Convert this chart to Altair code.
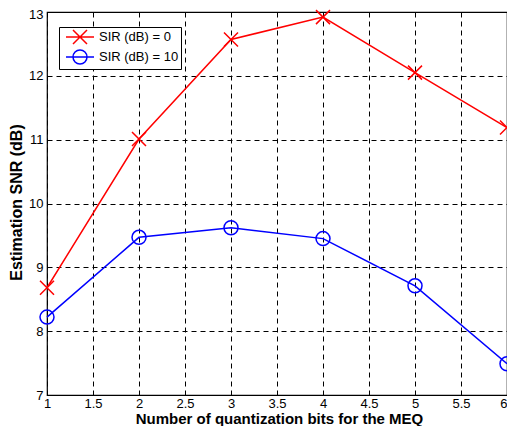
import altair as alt
import pandas as pd

bits = [1, 2, 3, 4, 5, 6]
sir0 = [8.68, 11.01, 12.57, 12.92, 12.05, 11.19]
sir10 = [8.22, 9.47, 9.62, 9.45, 8.71, 7.49]
series_names = ["SIR (dB) = 0", "SIR (dB) = 10"]
colors = ["#FF0000", "#0000FF"]
x_ticks = [1, 1.5, 2, 2.5, 3, 3.5, 4, 4.5, 5, 5.5, 6]
y_ticks = [7, 8, 9, 10, 11, 12, 13]

rows = []
for b, v in zip(bits, sir0):
    rows.append({"bits": b, "snr": v, "series": series_names[0]})
for b, v in zip(bits, sir10):
    rows.append({"bits": b, "snr": v, "series": series_names[1]})
df = pd.DataFrame(rows)

FONT = "Liberation Sans"
X_PATH = "M-1,-1L1,1M-1,1L1,-1"
O_PATH = "M1,0A1,1,0,1,1,-1,0A1,1,0,1,1,1,0Z"
X_LEG = "M-2,0L2,0M-1,-1L1,1M-1,1L1,-1"
O_LEG = "M-2,0L2,0M1,0A1,1,0,1,1,-1,0A1,1,0,1,1,1,0Z"

PLOT_W = 460
PLOT_H = 383

xenc = alt.X("bits:Q", scale=alt.Scale(domain=[1, 6], nice=False),
             axis=alt.Axis(values=x_ticks, title="Number of quantization bits for the MEQ",
                           format="~g", grid=True, gridDash=[5, 4], gridColor="black",
                           gridOpacity=1, ticks=False, labelPadding=2, labelFlush=False,
                           labelAlign={"expr": "datum.value == 6 ? 'right' : 'center'"},
                           domain=False, titleY=28, titleX=232, titleAlign="center",
                           titleBaseline="alphabetic", titleFontSize=15))
yenc = alt.Y("snr:Q", scale=alt.Scale(domain=[7, 13], nice=False, zero=False),
             axis=alt.Axis(values=y_ticks, title="Estimation SNR (dB)",
                           grid=True, gridDash=[5, 4], gridColor="black",
                           gridOpacity=1, ticks=False, labelPadding=4, domain=False,
                           labelOffset={"expr": "datum.value == 13 ? 2 : 0"},
                           titleX=-26, titleY=190, titleAngle=270, titleFontSize=16,
                           titleBaseline="alphabetic", titleAlign="center"))

base = alt.Chart(df)

lines = base.mark_line(strokeWidth=1.5).encode(
    x=xenc, y=yenc,
    color=alt.Color("series:N", scale=alt.Scale(domain=series_names, range=colors), legend=None),
    detail="series:N",
)

points = base.mark_point(filled=False, strokeWidth=1.5, size=196, opacity=1).encode(
    x=xenc, y=yenc,
    color=alt.Color("series:N", scale=alt.Scale(domain=series_names, range=colors), legend=None),
    shape=alt.Shape("series:N", scale=alt.Scale(domain=series_names, range=[X_PATH, O_PATH]), legend=None),
)

leg = alt.Legend(orient="none", legendX=12, legendY=15, title=None,
                 strokeColor="black", fillColor="white", padding=2,
                 labelFont=FONT, labelFontSize=13, labelColor="black",
                 labelExpr="datum.label + '    '",
                 symbolSize=196, symbolStrokeWidth=1.5, symbolOpacity=1,
                 symbolOffset=11, labelOffset=11, rowPadding=0)

legend_layer = base.mark_point(filled=False, opacity=0, size=196).encode(
    x=xenc, y=yenc,
    color=alt.Color("series:N", scale=alt.Scale(domain=series_names, range=colors), legend=leg),
    shape=alt.Shape("series:N", scale=alt.Scale(domain=series_names, range=[X_LEG, O_LEG]), legend=leg),
)

chart = alt.layer(lines, points, legend_layer).resolve_scale(
    color="independent", shape="independent"
).properties(
    width=PLOT_W, height=PLOT_H,
    background="white",
    autosize=alt.AutoSizeParams(type="none"),
    padding={"left": 39, "top": 4, "right": 0, "bottom": 31},
).configure_view(
    stroke="black", strokeWidth=1.2
).configure_axis(
    labelFont=FONT, labelFontSize=13, labelColor="black",
    titleFont=FONT, titleFontSize=14, titleFontWeight="bold", titleColor="black",
)

chart.save("out.html", embed_options={"renderer": "svg", "actions": False})
